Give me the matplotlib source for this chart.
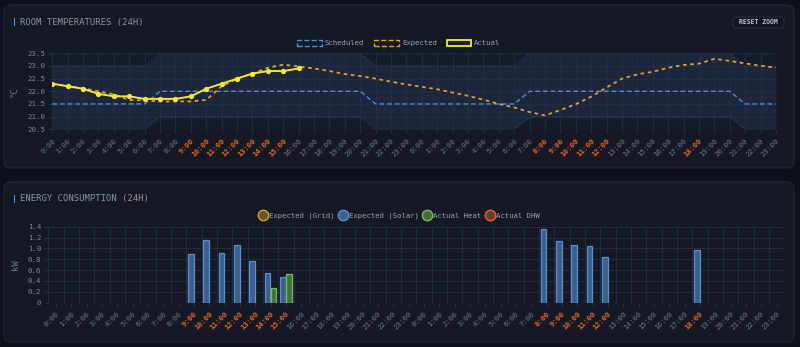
import matplotlib
matplotlib.use("Agg")
import matplotlib.pyplot as plt
import numpy as np
from matplotlib.lines import Line2D
from matplotlib.patches import FancyBboxPatch, Patch, Rectangle

# --- data -------------------------------------------------------------
hours = np.arange(48)
hour_labels = [f"{h % 24}:00" for h in hours]

scheduled = [21.5] * 7 + [22.0] * 14 + [21.5] * 10 + [22.0] * 14 + [21.5] * 3
expected = [22.3, 22.2, 22.12, 22.0, 21.88, 21.66, 21.64, 21.6, 21.6, 21.6,
            21.66, 22.2, 22.5, 22.7, 22.93, 23.05, 22.98, 22.9, 22.8, 22.68,
            22.6, 22.5, 22.38, 22.27, 22.18, 22.08, 21.95, 21.82, 21.67, 21.5,
            21.36, 21.18, 21.05, 21.26, 21.49, 21.79, 22.15, 22.5, 22.67, 22.77,
            22.93, 23.04, 23.09, 23.28, 23.2, 23.1, 23.01, 22.93]
actual_hours = list(range(17))
actual = [22.3, 22.2, 22.1, 21.9, 21.8, 21.8, 21.7, 21.7, 21.7, 21.8,
          22.1, 22.3, 22.5, 22.7, 22.8, 22.8, 22.9]

solar_hours = [9, 10, 11, 12, 13, 14, 15, 32, 33, 34, 35, 36, 42]
solar_values = [0.9, 1.15, 0.91, 1.07, 0.77, 0.55, 0.47, 1.36, 1.14, 1.07, 1.04, 0.85, 0.97]
heat_hours = [14, 15]
heat_values = [0.28, 0.52]

grid_kw = np.zeros(48)
solar_kw = np.zeros(48)
solar_kw[solar_hours] = solar_values
heat_kw = np.zeros(48)
heat_kw[heat_hours] = heat_values
dhw_kw = np.zeros(48)

# --- style ------------------------------------------------------------
plt.rcParams["font.family"] = "DejaVu Sans Mono"
page_bg = "#0d1119"
panel_bg = "#141924"
panel_edge = "#212838"
plot_bg = "#161b28"
band_bg = "#1d263a"
grid_c = "#252f45"
tick_c = "#6f798d"
hi_c = "#e8642c"
text_c = "#9aa3b5"
blue = "#4a8fd6"
orange = "#d9a23a"
yellow = "#f2ea2e"
green = "#6cc25a"
red = "#e0643a"

W, H = 800, 347
fig = plt.figure(figsize=(W / 100, H / 100), dpi=100, facecolor=page_bg)


def px_axes(left, top, right, bottom):
    return fig.add_axes([left / W, 1 - bottom / H, (right - left) / W, (bottom - top) / H])


def panel(top, bottom):
    box = FancyBboxPatch((4 / 100, (H - bottom) / 100), 790 / 100, (bottom - top) / 100,
                         boxstyle="round,pad=0,rounding_size=0.07", transform=fig.dpi_scale_trans,
                         fc=panel_bg, ec=panel_edge, lw=0.8, zorder=0)
    fig.add_artist(box)


def title(y, text):
    fig.add_artist(Rectangle((13.5 / W, 1 - (y + 4) / H), 1.5 / W, 8 / H,
                             transform=fig.transFigure, color="#3d9be9", lw=0))
    fig.text(20 / W, 1 - y / H, text, fontsize=6.4, color="#8a93a8", va="center", ha="left")


def style_xticks(ax, positions):
    ax.set_xticks(positions)
    ax.set_xticklabels(hour_labels, rotation=45, ha="right", va="top",
                       rotation_mode="anchor", fontsize=5.3)
    for h, lab in zip(hours, ax.get_xticklabels()):
        if h in solar_hours:
            lab.set_color(hi_c)
            lab.set_fontweight("bold")
        else:
            lab.set_color(tick_c)
    ax.tick_params(axis="x", length=3, color=grid_c, pad=3)
    ax.tick_params(axis="y", length=3, color=grid_c, labelsize=5.3, labelcolor="#7f889b", pad=2)
    for s in ax.spines.values():
        s.set_visible(False)


panel(5, 168)
panel(182, 342)
title(22, "ROOM TEMPERATURES (24H)")
title(198.5, "ENERGY CONSUMPTION (24H)")

# reset zoom button
fig.add_artist(FancyBboxPatch((733 / 100, (H - 28) / 100), 51 / 100, 11 / 100,
                              boxstyle="round,pad=0,rounding_size=0.03", transform=fig.dpi_scale_trans,
                              fc="#111620", ec="#272f3f", lw=0.8))
fig.text(758.5 / W, 1 - 22.5 / H, "RESET ZOOM", fontsize=4.7, fontweight="bold",
         color="#b8c0d0", ha="center", va="center")

# --- temperatures -----------------------------------------------------
ax = px_axes(52.3, 53.3, 776, 129.3)
ax.set_facecolor(plot_bg)
sched = np.array(scheduled)
ax.fill_between(hours, sched - 1.0, sched + 1.5, color=band_bg, lw=0, zorder=0.2)
ax.plot(hours, sched - 1.0, color="#2f3c58", lw=0.8, ls=(0, (1.5, 1.5)), zorder=0.6)
ax.plot(hours, sched + 1.5, color="#2f3c58", lw=0.8, ls=(0, (1.5, 1.5)), zorder=0.6)
ax.plot(hours, scheduled, color=blue, lw=1.0, ls=(0, (3.5, 2)), zorder=2)
ax.plot(hours, expected, color=orange, lw=1.3, ls=(0, (2, 2)), zorder=3)
ax.plot(actual_hours, actual, color=yellow, lw=1.4, marker="o", ms=2.8, zorder=4)
ax.set_xlim(0, 47)
ax.set_ylim(20.5, 23.5)
ax.set_yticks(np.arange(20.5, 23.51, 0.5))
ax.set_yticklabels([f"{v:.1f}" for v in np.arange(20.5, 23.51, 0.5)])
ax.set_axisbelow(True)
ax.grid(color=grid_c, lw=0.6)
style_xticks(ax, hours)
ax.set_ylabel("°C", fontsize=6.5, color=tick_c)
ax.yaxis.set_label_coords(-(52.3 - 19) / 723.7, 0.5)

handles = [Patch(fc="none", ec=blue, ls="--", lw=1.0),
           Patch(fc="none", ec=orange, ls="--", lw=1.0),
           Patch(fc="#1a2030", ec=yellow, lw=1.3)]
ax.legend(handles, ["Scheduled", "Expected", "Actual"], loc="center",
          bbox_to_anchor=(399 / W, 1 - 43 / H), bbox_transform=fig.transFigure,
          ncol=3, frameon=False, fontsize=5.2, labelcolor=text_c, handlelength=3.4,
          handleheight=1.0, handletextpad=0.4, columnspacing=1.4)

# --- energy -----------------------------------------------------------
bx = px_axes(48.3, 226.7, 784.3, 302.7)
bx.set_facecolor(panel_bg)
w = 0.36


def lw_for(v):
    return np.where(v > 0, 0.9, 0.0)


bx.bar(hours - 0.2, grid_kw, w, fc="#6b5426", ec=orange, lw=lw_for(grid_kw), zorder=2)
bx.bar(hours - 0.2, solar_kw, w, bottom=grid_kw, fc="#3d5f8c", ec="#5a8fd0", lw=lw_for(solar_kw), zorder=2)
bx.bar(hours + 0.2, heat_kw, w, fc="#46703a", ec=green, lw=lw_for(heat_kw), zorder=2)
bx.bar(hours + 0.2, dhw_kw, w, bottom=heat_kw, fc="#6e3a26", ec=red, lw=lw_for(dhw_kw), zorder=2)
bx.set_xlim(-0.5, 47.5)
bx.set_ylim(0, 1.4)
yt = np.arange(0, 1.41, 0.2)
bx.set_yticks(yt)
bx.set_yticklabels(["0" if v == 0 else f"{v:.1f}" for v in yt])
bx.set_xticks(np.arange(-0.5, 48, 1), minor=True)
bx.tick_params(axis="x", which="minor", length=0)
bx.set_axisbelow(True)
bx.grid(axis="y", color=grid_c, lw=0.6)
bx.grid(axis="x", which="minor", color=grid_c, lw=0.6)
style_xticks(bx, hours)
bx.set_ylabel("kW", fontsize=6.5, color=tick_c)
bx.yaxis.set_label_coords(-(48.3 - 20) / 736, 0.5)

dots = [Line2D([], [], ls="none", marker="o", ms=7.5, mfc="#6b5426", mec=orange, mew=1),
        Line2D([], [], ls="none", marker="o", ms=7.5, mfc="#3d5f8c", mec="#5a8fd0", mew=1),
        Line2D([], [], ls="none", marker="o", ms=7.5, mfc="#46703a", mec=green, mew=1),
        Line2D([], [], ls="none", marker="o", ms=7.5, mfc="#6e3a26", mec=red, mew=1)]
bx.legend(dots, ["Expected (Grid)", "Expected (Solar)", "Actual Heat", "Actual DHW"],
          loc="center", bbox_to_anchor=(399 / W, 1 - 216 / H), bbox_transform=fig.transFigure,
          ncol=4, frameon=False, fontsize=5.2, labelcolor=text_c, handlelength=1.2,
          handletextpad=0.2, columnspacing=0.6)

fig.savefig("out.png", dpi=100, facecolor=page_bg)
